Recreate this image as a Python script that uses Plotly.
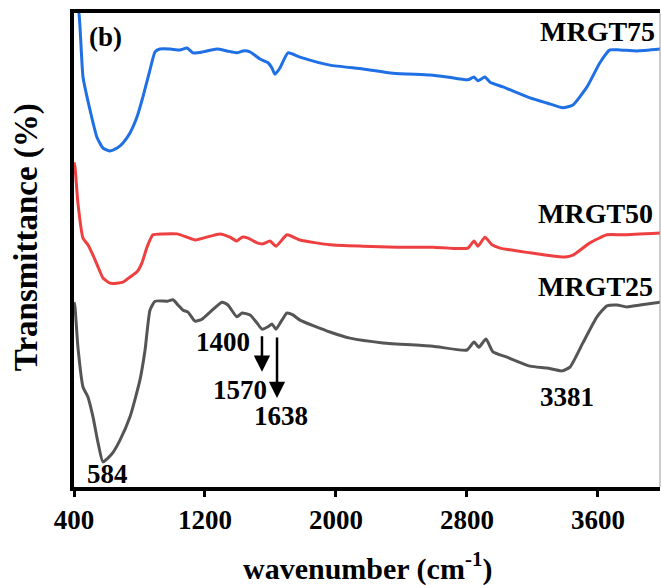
import plotly.graph_objects as go

# MRGT75 (blue)
wn75 = [400, 430, 455, 498, 540, 577, 620, 663, 699, 742, 785, 821, 864, 895, 925, 986, 1047, 1090,
        1127, 1188, 1273, 1334, 1395, 1432, 1475, 1536, 1585, 1609, 1627, 1658, 1707, 1780, 1963,
        2165, 2348, 2574, 2678, 2806, 2843, 2867, 2910, 2941, 3020, 3185, 3289, 3386, 3447, 3533,
        3612, 3673, 3734, 3838, 3979]
t75 = [104.0, 100.0, 86.5, 79.5, 73.8, 71.5, 70.9, 71.5, 72.6, 74.7, 78.1, 82.3, 88.0, 91.8, 92.4,
       92.4, 92.2, 92.6, 91.6, 91.8, 92.4, 92.0, 91.6, 92.0, 91.8, 90.3, 89.5, 88.4, 87.1, 88.4,
       91.6, 90.7, 89.0, 88.2, 87.3, 86.9, 86.5, 85.9, 86.5, 85.7, 86.5, 85.4, 84.4, 82.1, 81.0,
       80.0, 80.6, 84.4, 89.5, 92.2, 92.2, 92.0, 92.4]

# MRGT50 (red)
wn50 = [400, 406, 424, 455, 485, 516, 547, 577, 620, 663, 699, 742, 785, 815, 846, 882, 944, 1029,
        1090, 1139, 1188, 1292, 1353, 1395, 1426, 1463, 1518, 1554, 1597, 1634, 1701, 1780, 1963,
        2165, 2373, 2592, 2806, 2843, 2867, 2910, 2953, 3002, 3185, 3289, 3399, 3447, 3551, 3655,
        3753, 3979]
t50 = [68.5, 67.5, 59.9, 52.5, 51.1, 48.9, 46.4, 44.1, 43.0, 43.0, 43.2, 44.3, 45.4, 47.3, 50.6,
       53.2, 53.4, 53.4, 52.7, 52.1, 52.5, 53.4, 52.7, 51.9, 52.7, 52.5, 51.5, 51.3, 51.9, 50.8,
       53.2, 52.1, 51.1, 50.8, 50.6, 50.6, 50.4, 51.9, 50.8, 52.7, 51.1, 50.4, 49.4, 48.9, 48.5,
       48.9, 51.5, 53.2, 53.2, 53.6]

# MRGT25 (gray)
wn25 = [400, 406, 424, 455, 485, 516, 547, 577, 632, 681, 742, 803, 834, 864, 895, 968, 1005, 1035,
        1066, 1096, 1139, 1182, 1231, 1304, 1340, 1395, 1426, 1475, 1518, 1548, 1585, 1609, 1634,
        1670, 1701, 1737, 1780, 1963, 2086, 2287, 2592, 2800, 2843, 2873, 2916, 2959, 3044, 3185,
        3289, 3380, 3429, 3508, 3594, 3655, 3716, 3777, 3857, 3979]
t25 = [39.0, 38.0, 29.5, 21.1, 19.0, 14.8, 9.3, 5.3, 7.0, 9.9, 14.8, 22.6, 28.9, 37.3, 39.2, 39.2,
       39.5, 38.4, 37.3, 36.9, 35.0, 35.4, 36.9, 39.0, 38.4, 35.9, 36.7, 36.3, 34.6, 33.3, 33.8,
       34.4, 33.3, 35.2, 36.7, 36.3, 35.2, 32.7, 31.4, 30.4, 29.7, 28.9, 30.6, 29.5, 31.2, 28.5,
       27.4, 25.5, 25.1, 24.5, 25.3, 30.4, 35.9, 38.2, 38.4, 38.0, 38.4, 39.0]

series_names = ["MRGT75", "MRGT50", "MRGT25"]
x_ticks = [400, 1200, 2000, 2800, 3600]

# peak labels (text, wavenumber position, transmittance position)
peak_text = ["584", "1400", "1570", "1638", "3381"]
peak_x = [602, 1310, 1414, 1664, 3411]
peak_y = [2.7, 30.6, 20.5, 15.0, 19.0]

# arrows (head wavenumber, head transmittance, tail offset in px)
arrow_x = [1548, 1640]
arrow_y = [24.3, 18.8]
arrow_len = [-37, -62]

FONT = "Liberation Serif, Times New Roman, serif"

fig = go.Figure()
fig.add_trace(go.Scatter(x=wn75, y=t75, mode="lines", name=series_names[0],
                         line=dict(color="#1f6fe5", width=3, shape="spline", smoothing=0.5)))
fig.add_trace(go.Scatter(x=wn50, y=t50, mode="lines", name=series_names[1],
                         line=dict(color="#ee4040", width=3, shape="spline", smoothing=0.5)))
fig.add_trace(go.Scatter(x=wn25, y=t25, mode="lines", name=series_names[2],
                         line=dict(color="#555555", width=3, shape="spline", smoothing=0.5)))

ann = []
for txt, xv, yv in zip(peak_text, peak_x, peak_y):
    ann.append(dict(x=xv, y=yv, xref="x", yref="y", text=txt, showarrow=False,
                    xanchor="center", yanchor="middle",
                    font=dict(family=FONT, size=27, color="black", weight="bold")))
for xv, yv, ln in zip(arrow_x, arrow_y, arrow_len):
    ann.append(dict(x=xv, y=yv, xref="x", yref="y", text="", showarrow=True,
                    ax=0, ay=ln, arrowhead=2, arrowsize=1.3, arrowwidth=2.5,
                    arrowcolor="black"))

label_pos = [(0.995, 0.960), (0.992, 0.578), (0.992, 0.422)]
for name, (px, py) in zip(series_names, label_pos):
    ann.append(dict(x=px, y=py, xref="paper", yref="paper", text=name, showarrow=False,
                    xanchor="right", yanchor="middle",
                    font=dict(family=FONT, size=28, color="black", weight="bold")))

ann.append(dict(x=0.0546, y=0.949, xref="paper", yref="paper", text="(b)", showarrow=False,
                xanchor="center", yanchor="middle",
                font=dict(family=FONT, size=27, color="black", weight="bold")))
ann.append(dict(x=-0.082, y=0.527, xref="paper", yref="paper", text="Transmittance (%)",
                showarrow=False, textangle=-90, xanchor="center", yanchor="middle",
                font=dict(family=FONT, size=33, color="black", weight="bold")))
ann.append(dict(x=0.5, y=-0.1667, xref="paper", yref="paper",
                text="wavenumber (cm<sup>-1</sup>)", showarrow=False,
                xanchor="center", yanchor="middle",
                font=dict(family=FONT, size=30, color="black", weight="bold")))

fig.update_layout(
    width=661, height=585,
    margin=dict(l=74, r=1, t=13, b=98),
    paper_bgcolor="white", plot_bgcolor="white",
    showlegend=False,
    annotations=ann,
    shapes=[dict(type="line", xref="paper", yref="paper", x0=1, x1=1, y0=0, y1=1,
                 line=dict(color="#999999", width=1))],
)
fig.update_xaxes(range=[400, 3979], tickvals=x_ticks, ticks="outside", ticklen=6,
                 tickwidth=3, tickcolor="black", showline=True, linewidth=4,
                 linecolor="black", mirror=True, showgrid=False, zeroline=False,
                 tickfont=dict(family=FONT, size=27, color="black", weight="bold"))
fig.update_yaxes(range=[0, 100], showticklabels=False, ticks="", showline=True,
                 linewidth=4, linecolor="black", showgrid=False, zeroline=False)

fig.write_html("out.html", config={"displayModeBar": False},
               post_script="document.body.style.margin='0';")
